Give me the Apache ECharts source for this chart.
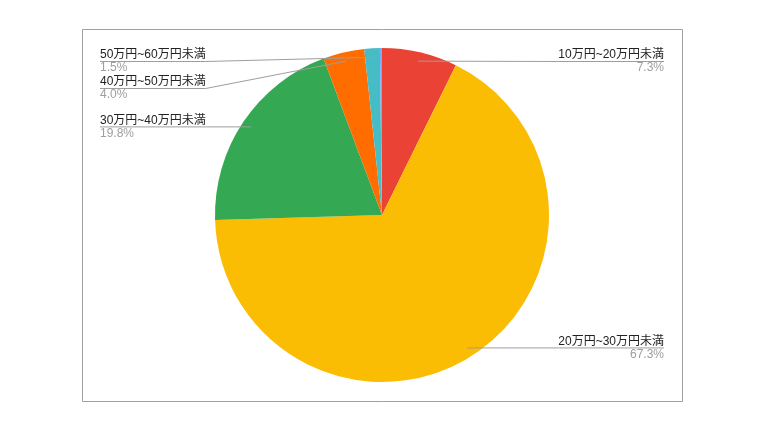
<!DOCTYPE html>
<html><head><meta charset="utf-8">
<script src="https://cdn.jsdelivr.net/npm/echarts@6/dist/echarts.min.js"></script>
<style>html,body{margin:0;padding:0;background:#fff}#c{width:772px;height:433px}</style>
</head><body><div id="c"></div>
<script>
const categories = ['10万円~20万円未満','20万円~30万円未満','30万円~40万円未満','40万円~50万円未満','50万円~60万円未満','60万円以上'];
const shares = [7.3, 67.3, 19.8, 4.0, 1.5, 0.2];
const labelled = [true, true, true, true, true, false];
const colors = ['#ea4335','#fbbc04','#34a853','#ff6d01','#46bdc6','#7baaf7'];

const FONT = '"Liberation Sans", Arial, "Noto Sans CJK JP", sans-serif';
const chart = echarts.init(document.getElementById('c'), null, {renderer: 'canvas'});

const box = {left: 82, top: 48, width: 600, height: 334};

function pieData(withLabels) {
  return categories.map((n, i) => {
    const d = {name: n, value: shares[i], itemStyle: {color: withLabels ? 'rgba(0,0,0,0)' : colors[i]}};
    if (withLabels && !labelled[i]) { d.label = {show: false}; d.labelLine = {show: false}; }
    return d;
  });
}

chart.setOption({
  animation: false,
  backgroundColor: '#fff',
  graphic: [{
    type: 'rect', silent: true,
    shape: {x: 82.5, y: 29.5, width: 600, height: 372},
    style: {fill: 'none', stroke: '#a0a0a0', lineWidth: 1}
  }],
  series: [
    {
      type: 'pie', silent: true,
      left: box.left, top: box.top, width: box.width, height: box.height,
      center: [300, 167], radius: 167, startAngle: 90, clockwise: true,
      label: {show: false}, labelLine: {show: false},
      itemStyle: {borderWidth: 0},
      emphasis: {disabled: true},
      data: pieData(false)
    },
    {
      type: 'pie', silent: true, z: 3,
      left: box.left, top: box.top, width: box.width, height: box.height,
      center: [300, 167], radius: 158, startAngle: 90, clockwise: true,
      itemStyle: {borderWidth: 0},
      emphasis: {disabled: true},
      label: {
        show: true, position: 'outside', alignTo: 'edge', edgeDistance: 18,
        fontFamily: FONT,
        formatter: p => '{n|' + p.name + '}\n{p|' + p.value.toFixed(1) + '%}',
        rich: {
          n: {fontFamily: FONT, fontSize: 12, lineHeight: 13, color: '#222222'},
          p: {fontFamily: FONT, fontSize: 12, lineHeight: 13, color: '#9e9e9e'}
        }
      },
      labelLine: {show: true, length: 0.01, length2: 5, minTurnAngle: 0, lineStyle: {color: '#9e9e9e', width: 1}},
      labelLayout: function (params) {
        const pts = params.labelLinePoints;
        if (!pts) return {};
        const r = params.labelRect;
        const dot = pts[0];
        const isLeft = r.x + r.width / 2 < dot[0];
        const y = r.y + r.height / 2;
        const near = isLeft ? r.x + r.width : r.x;
        const far = isLeft ? r.x : r.x + r.width;
        return {labelLinePoints: [dot, [near, y], [far, y]]};
      },
      data: pieData(true)
    }
  ]
});
</script>
</body></html>
